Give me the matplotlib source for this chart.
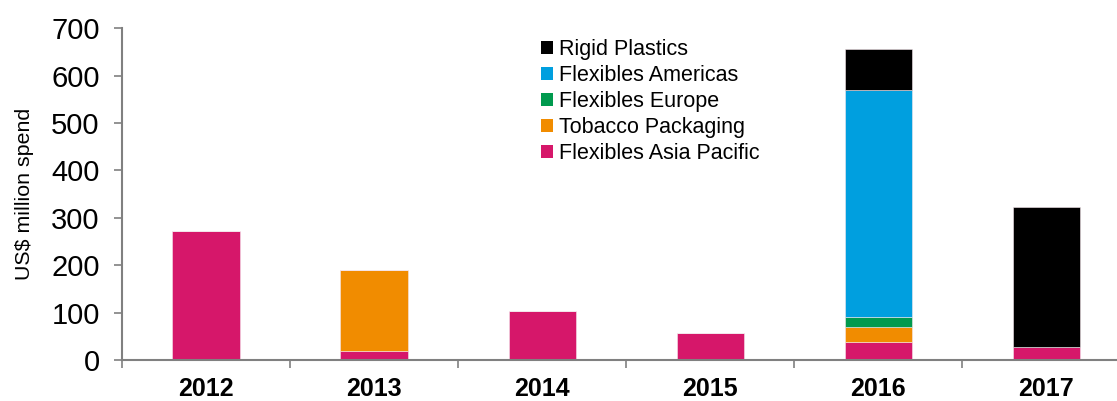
import matplotlib
matplotlib.use("Agg")
import matplotlib.pyplot as plt
from matplotlib.patches import Patch
import numpy as np

plt.rcParams['font.family'] = ['Liberation Sans', 'DejaVu Sans']

years = ["2012", "2013", "2014", "2015", "2016", "2017"]
flex_asia_pacific = [273, 20, 104, 58, 38, 28]
tobacco_packaging = [0, 171, 0, 0, 31, 0]
flex_europe = [0, 0, 0, 0, 21, 0]
flex_americas = [0, 0, 0, 0, 480, 0]
rigid_plastics = [0, 0, 0, 0, 86, 295]

series = [
    ("Flexibles Asia Pacific", flex_asia_pacific, "#D6176A"),
    ("Tobacco Packaging", tobacco_packaging, "#F18C00"),
    ("Flexibles Europe", flex_europe, "#009A4E"),
    ("Flexibles Americas", flex_americas, "#009FDF"),
    ("Rigid Plastics", rigid_plastics, "#000000"),
]

fig = plt.figure(figsize=(11.17, 4.01), dpi=100)
ax = fig.add_axes([0.1092, 0.1022, 0.8908, 0.8272])

x = np.arange(len(years))
bottom = np.zeros(len(years))
for name, vals, color in series:
    vals = np.array(vals, dtype=float)
    ax.bar(x, vals, width=0.4, bottom=bottom, color=color,
           edgecolor="#f4e6ec", linewidth=0.4)
    bottom += vals

ax.set_xlim(-0.5, 5.42)
ax.set_ylim(0, 700)
ax.set_yticks(range(0, 701, 100))
ax.tick_params(axis="y", labelsize=21, length=6, width=1.2, color="#808080",
               pad=10, labelcolor="#000000")

ax.set_xticks(x)
ax.set_xticklabels(years, fontsize=18, fontweight="bold")
ax.tick_params(axis="x", which="major", length=0, pad=12)
ax.set_xticks(np.arange(-0.5, 5.5, 1.0), minor=True)
ax.tick_params(axis="x", which="minor", length=6, width=1.2, color="#808080")

for side in ("top", "right"):
    ax.spines[side].set_visible(False)
for side in ("left", "bottom"):
    ax.spines[side].set_color("#808080")
    ax.spines[side].set_linewidth(1.5)

ax.set_ylabel("US$ million spend", fontsize=15.4)
ax.yaxis.set_label_coords(-0.0885, 0.5)

handles = [Patch(facecolor=c, edgecolor="none") for _, _, c in series][::-1]
labels = [n for n, _, _ in series][::-1]
leg = ax.legend(handles, labels, loc="upper left",
                bbox_to_anchor=(541 / 1117, 1 - 39 / 401),
                bbox_transform=fig.transFigure, frameon=False,
                fontsize=15.5, handlelength=0.55, handleheight=0.55,
                handletextpad=0.3, labelspacing=0.23, borderpad=0,
                borderaxespad=0)

fig.savefig("out.png", dpi=100)
